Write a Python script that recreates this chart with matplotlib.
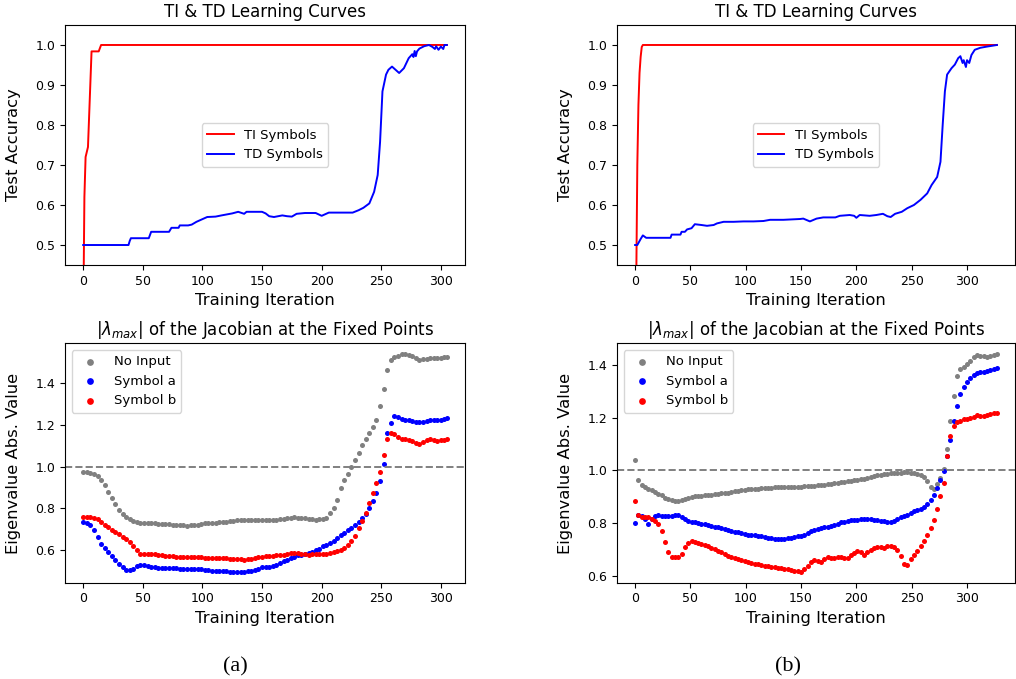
import numpy as np
import matplotlib
matplotlib.use("Agg")
import matplotlib.pyplot as plt

# ---- learning curves (test accuracy vs. training iteration) ----
ti_a_x = [0, 1, 2, 4, 7, 13, 15, 305]
ti_a_y = [0.30, 0.62, 0.72, 0.745, 0.984, 0.984, 1.0, 1.0]

td_a_x = [0, 38, 39, 40, 55, 56, 57, 72, 73, 74, 80, 81, 88, 91, 95, 98, 104, 111, 116, 125,
          130, 135, 137, 150, 153, 156, 160, 167, 171, 175, 179, 186, 195, 200, 206, 226, 231, 235, 240, 244,
          247, 249, 251, 254, 256, 259, 262, 265, 269, 273, 276, 277, 278, 279, 280, 282, 286, 290, 293, 295,
          296, 298, 300, 302, 303, 305]
td_a_y = [0.5, 0.5, 0.51, 0.517, 0.517, 0.525, 0.533, 0.533, 0.538, 0.543, 0.543, 0.549, 0.549, 0.551, 0.558, 0.562, 0.570, 0.571, 0.574, 0.579,
          0.583, 0.578, 0.583, 0.583, 0.579, 0.572, 0.570, 0.574, 0.572, 0.571, 0.578, 0.580, 0.580, 0.573, 0.581, 0.581, 0.587, 0.593, 0.604, 0.633,
          0.675, 0.758, 0.884, 0.926, 0.938, 0.946, 0.938, 0.930, 0.942, 0.967, 0.977, 0.970, 0.985, 0.972, 0.984, 0.991, 0.997, 1.0, 0.995, 0.99,
          0.997, 0.988, 0.996, 0.99, 1.0, 1.0]

ti_b_x = [0, 1, 2, 3, 4, 5, 6, 7, 327]
ti_b_y = [0.30, 0.40, 0.70, 0.85, 0.93, 0.97, 0.995, 1.0, 1.0]

td_b_x = [0, 2, 5, 7, 10, 32, 33, 41, 42, 45, 47, 51, 54, 60, 65, 71, 74, 80, 89, 98,
          107, 116, 122, 134, 149, 152, 158, 164, 170, 176, 181, 185, 194, 198, 200, 203, 212, 218, 224, 228,
          231, 235, 241, 246, 252, 258, 264, 268, 273, 276, 278, 280, 282, 286, 289, 292, 294, 296, 297, 299,
          300, 302, 304, 307, 312, 318, 327]
td_b_y = [0.5, 0.5, 0.515, 0.524, 0.518, 0.518, 0.526, 0.526, 0.533, 0.533, 0.539, 0.542, 0.552, 0.550, 0.548, 0.550, 0.554, 0.558, 0.558, 0.559,
          0.559, 0.560, 0.563, 0.563, 0.565, 0.566, 0.559, 0.566, 0.569, 0.569, 0.569, 0.573, 0.575, 0.573, 0.568, 0.575, 0.573, 0.575, 0.578, 0.572,
          0.570, 0.578, 0.583, 0.592, 0.600, 0.613, 0.629, 0.650, 0.670, 0.708, 0.800, 0.884, 0.926, 0.942, 0.951, 0.967, 0.972, 0.955, 0.962, 0.945,
          0.962, 0.955, 0.975, 0.988, 0.993, 0.996, 1.0]

# ---- |lambda_max| at the fixed points, sampled every 3 iterations ----
eig_a_x = list(range(0, 304, 3)) + [305]
no_input_a = [
    0.976, 0.974, 0.971, 0.965, 0.955, 0.938, 0.912, 0.879, 0.847, 0.818,
    0.791, 0.772, 0.757, 0.746, 0.739, 0.734, 0.731, 0.729, 0.728, 0.727,
    0.727, 0.726, 0.725, 0.724, 0.722, 0.720, 0.719, 0.718, 0.717, 0.716,
    0.717, 0.718, 0.721, 0.724, 0.727, 0.728, 0.729, 0.730, 0.732, 0.734,
    0.736, 0.737, 0.739, 0.741, 0.742, 0.743, 0.743, 0.743, 0.743, 0.743,
    0.743, 0.743, 0.743, 0.744, 0.745, 0.747, 0.749, 0.751, 0.754, 0.756,
    0.755, 0.753, 0.751, 0.748, 0.746, 0.745, 0.747, 0.749, 0.755, 0.775,
    0.799, 0.839, 0.896, 0.936, 0.963, 0.998, 1.033, 1.068, 1.104, 1.135,
    1.163, 1.190, 1.222, 1.290, 1.375, 1.466, 1.514, 1.527, 1.534, 1.540,
    1.541, 1.537, 1.530, 1.521, 1.514, 1.517, 1.520, 1.522, 1.524, 1.524,
    1.525, 1.526, 1.527]
symbol_a_a = [
    0.735, 0.727, 0.717, 0.695, 0.660, 0.628, 0.607, 0.589, 0.569, 0.549,
    0.530, 0.516, 0.504, 0.502, 0.510, 0.520, 0.527, 0.526, 0.523, 0.519,
    0.516, 0.514, 0.513, 0.513, 0.513, 0.512, 0.511, 0.510, 0.509, 0.508,
    0.508, 0.508, 0.508, 0.507, 0.503, 0.501, 0.500, 0.499, 0.498, 0.497,
    0.496, 0.495, 0.494, 0.494, 0.494, 0.495, 0.496, 0.499, 0.504, 0.510,
    0.515, 0.517, 0.519, 0.522, 0.528, 0.536, 0.545, 0.553, 0.561, 0.567,
    0.573, 0.577, 0.581, 0.586, 0.590, 0.597, 0.606, 0.616, 0.625, 0.633,
    0.643, 0.656, 0.669, 0.683, 0.695, 0.705, 0.718, 0.735, 0.753, 0.773,
    0.799, 0.835, 0.875, 0.930, 1.015, 1.161, 1.209, 1.244, 1.240, 1.228,
    1.224, 1.222, 1.220, 1.217, 1.215, 1.215, 1.219, 1.222, 1.222, 1.222,
    1.226, 1.230, 1.233]
symbol_b_a = [
    0.759, 0.759, 0.759, 0.755, 0.748, 0.736, 0.721, 0.709, 0.695, 0.685,
    0.676, 0.663, 0.651, 0.637, 0.620, 0.598, 0.579, 0.581, 0.582, 0.582,
    0.581, 0.576, 0.573, 0.571, 0.569, 0.568, 0.567, 0.566, 0.566, 0.565,
    0.564, 0.564, 0.563, 0.563, 0.562, 0.562, 0.561, 0.561, 0.560, 0.560,
    0.559, 0.558, 0.558, 0.557, 0.555, 0.553, 0.554, 0.557, 0.560, 0.564,
    0.567, 0.569, 0.571, 0.572, 0.573, 0.574, 0.577, 0.581, 0.585, 0.586,
    0.583, 0.581, 0.579, 0.577, 0.579, 0.581, 0.582, 0.580, 0.580, 0.584,
    0.588, 0.593, 0.600, 0.611, 0.624, 0.642, 0.668, 0.703, 0.740, 0.779,
    0.823, 0.872, 0.920, 0.972, 1.055, 1.135, 1.160, 1.157, 1.142, 1.135,
    1.133, 1.130, 1.125, 1.113, 1.107, 1.120, 1.129, 1.132, 1.127, 1.125,
    1.128, 1.130, 1.132]

eig_b_x = list(range(0, 325, 3)) + [327]
no_input_b = [
    1.041, 0.965, 0.945, 0.937, 0.931, 0.925, 0.918, 0.912, 0.905, 0.897,
    0.891, 0.887, 0.885, 0.885, 0.888, 0.892, 0.895, 0.899, 0.901, 0.903,
    0.904, 0.905, 0.906, 0.908, 0.910, 0.911, 0.913, 0.914, 0.916, 0.918,
    0.920, 0.922, 0.924, 0.926, 0.928, 0.929, 0.930, 0.931, 0.932, 0.933,
    0.934, 0.935, 0.936, 0.936, 0.937, 0.937, 0.938, 0.938, 0.939, 0.939,
    0.939, 0.940, 0.940, 0.941, 0.942, 0.943, 0.944, 0.946, 0.947, 0.949,
    0.951, 0.953, 0.955, 0.957, 0.959, 0.961, 0.963, 0.965, 0.967, 0.969,
    0.972, 0.975, 0.978, 0.981, 0.984, 0.987, 0.988, 0.989, 0.990, 0.991,
    0.992, 0.993, 0.993, 0.992, 0.990, 0.988, 0.982, 0.974, 0.960, 0.938,
    0.930, 0.950, 0.972, 1.005, 1.080, 1.190, 1.285, 1.360, 1.386, 1.396,
    1.405, 1.418, 1.432, 1.440, 1.437, 1.435, 1.434, 1.436, 1.440, 1.443]
symbol_a_b = [
    0.799, 0.830, 0.826, 0.817, 0.795, 0.815, 0.828, 0.830, 0.827, 0.825,
    0.825, 0.827, 0.829, 0.830, 0.823, 0.814, 0.808, 0.805, 0.803, 0.801,
    0.798, 0.795, 0.792, 0.789, 0.786, 0.783, 0.780, 0.776, 0.773, 0.770,
    0.767, 0.765, 0.762, 0.759, 0.756, 0.755, 0.754, 0.752, 0.749, 0.746,
    0.744, 0.742, 0.740, 0.739, 0.739, 0.740, 0.741, 0.743, 0.746, 0.749,
    0.752, 0.756, 0.762, 0.768, 0.773, 0.777, 0.780, 0.783, 0.786, 0.789,
    0.793, 0.798, 0.802, 0.805, 0.809, 0.812, 0.813, 0.813, 0.814, 0.815,
    0.816, 0.816, 0.813, 0.811, 0.809, 0.807, 0.805, 0.804, 0.808, 0.815,
    0.821, 0.825, 0.831, 0.838, 0.844, 0.849, 0.854, 0.860, 0.871, 0.886,
    0.907, 0.933, 0.962, 0.997, 1.054, 1.118, 1.188, 1.246, 1.290, 1.318,
    1.338, 1.354, 1.364, 1.371, 1.374, 1.376, 1.379, 1.382, 1.386, 1.390]
symbol_b_b = [
    0.882, 0.832, 0.823, 0.822, 0.821, 0.817, 0.809, 0.795, 0.770, 0.728,
    0.690, 0.670, 0.669, 0.671, 0.683, 0.708, 0.725, 0.731, 0.729, 0.725,
    0.720, 0.715, 0.711, 0.706, 0.700, 0.695, 0.689, 0.682, 0.676, 0.672,
    0.668, 0.664, 0.660, 0.655, 0.650, 0.647, 0.645, 0.642, 0.640, 0.638,
    0.636, 0.634, 0.632, 0.630, 0.628, 0.626, 0.623, 0.621, 0.619, 0.617,
    0.614, 0.625, 0.638, 0.650, 0.658, 0.655, 0.652, 0.663, 0.671, 0.668,
    0.665, 0.669, 0.671, 0.668, 0.665, 0.677, 0.686, 0.693, 0.688, 0.678,
    0.688, 0.697, 0.704, 0.710, 0.707, 0.703, 0.712, 0.713, 0.707, 0.696,
    0.675, 0.643, 0.640, 0.662, 0.679, 0.694, 0.711, 0.732, 0.755, 0.780,
    0.813, 0.852, 0.901, 0.952, 1.054, 1.131, 1.169, 1.184, 1.190, 1.195,
    1.198, 1.201, 1.205, 1.210, 1.209, 1.207, 1.211, 1.216, 1.219, 1.220]

TICK_FS = 9
LABEL_FS = 11.8
TITLE_FS = 12
LEGEND_FS = 9.5
DOT_SIZE = 13


def style_axes(ax, ylabel, title):
    ax.set_title(title, fontsize=TITLE_FS)
    ax.set_xlabel("Training Iteration", fontsize=LABEL_FS)
    ax.set_ylabel(ylabel, fontsize=LABEL_FS, labelpad=10)
    ax.tick_params(labelsize=TICK_FS)


def plot_accuracy(ax, ti_x, ti_y, td_x, td_y):
    ax.plot(ti_x, ti_y, color="red", lw=1.4, label="TI Symbols")
    ax.plot(td_x, td_y, color="blue", lw=1.4, label="TD Symbols")
    ax.set_ylim(0.45, 1.05)
    ax.legend(loc="center", fontsize=LEGEND_FS)
    style_axes(ax, "Test Accuracy", "TI & TD Learning Curves")


def plot_eigen(ax, x, gray_vals, a_vals, b_vals):
    ax.scatter(x, gray_vals, s=DOT_SIZE, color="gray", linewidths=0, label="No Input")
    ax.scatter(x, a_vals, s=DOT_SIZE, color="blue", linewidths=0, label="Symbol a")
    ax.scatter(x, b_vals, s=DOT_SIZE, color="red", linewidths=0, label="Symbol b")
    ax.axhline(1.0, color="gray", ls="--", lw=1.4)
    ax.legend(loc="upper left", fontsize=LEGEND_FS, markerscale=1.35)
    style_axes(ax, "Eigenvalue Abs. Value",
               r"$|\lambda_{max}|$ of the Jacobian at the Fixed Points")


fig = plt.figure(figsize=(10.16, 6.79), dpi=100)

ax_a1 = fig.add_axes([0.0640, 0.6097, 0.3937, 0.3535])
ax_a2 = fig.add_axes([0.0640, 0.1418, 0.3937, 0.3526])
ax_b1 = fig.add_axes([0.6073, 0.6097, 0.3917, 0.3535])
ax_b2 = fig.add_axes([0.6073, 0.1418, 0.3917, 0.3526])

plot_accuracy(ax_a1, ti_a_x, ti_a_y, td_a_x, td_a_y)
plot_accuracy(ax_b1, ti_b_x, ti_b_y, td_b_x, td_b_y)
plot_eigen(ax_a2, eig_a_x, no_input_a, symbol_a_a, symbol_b_a)
plot_eigen(ax_b2, eig_b_x, no_input_b, symbol_a_b, symbol_b_b)

# sub-figure captions
fig.text(0.232, 0.018, "(a)", fontsize=16, family="Liberation Serif", ha="center", va="center")
fig.text(0.776, 0.018, "(b)", fontsize=16, family="Liberation Serif", ha="center", va="center")

fig.savefig("out.png", dpi=100)
